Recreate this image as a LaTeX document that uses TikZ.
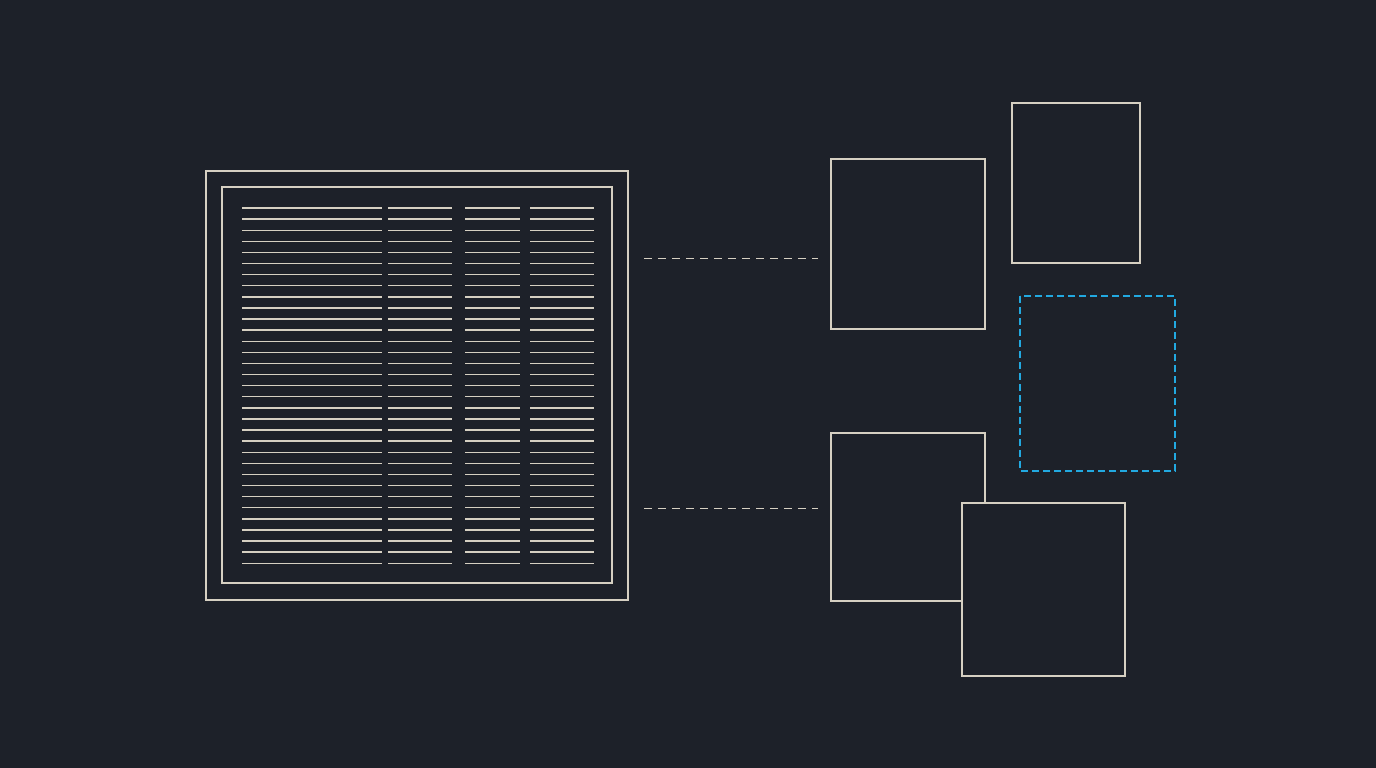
\documentclass[tikz,border=0pt]{standalone}
\definecolor{bg}{HTML}{1D2129}
\definecolor{ln}{HTML}{D6D0C2}
\definecolor{bl}{HTML}{22A9E0}
\begin{document}
\begin{tikzpicture}[x=1pt,y=-1pt,
  box/.style={draw=ln,line width=1.6pt,fill=bg},
  rowline/.style={draw=ln,line width=1.4pt},
  link/.style={draw=ln,line width=1pt,dash pattern=on 8pt off 6pt}]
\fill[bg] (0,0) rectangle (1376,768);
\useasboundingbox (0,0) rectangle (1376,768);
\draw[box] (206,171) rectangle (628,600);
\draw[box] (222,187) rectangle (612,583);
\foreach \i in {0,...,32}{
  \pgfmathsetmacro{\yy}{208+\i*11.1}
  \draw[rowline] (242,\yy) -- (382,\yy);
  \draw[rowline] (388,\yy) -- (452,\yy);
  \draw[rowline] (465,\yy) -- (520,\yy);
  \draw[rowline] (530,\yy) -- (594,\yy);
}
\coordinate (s1) at (644,258);
\coordinate (e1) at (818,258);
\coordinate (s2) at (644,508);
\coordinate (e2) at (818,508);
\draw[link] (s1) -- (e1);
\draw[link] (s2) -- (e2);
\draw[box] (831,159) rectangle (985,329);
\draw[box] (1012,103) rectangle (1140,263);
\draw[draw=bl,line width=1.6pt,dash pattern=on 7pt off 4pt] (1020,296) rectangle (1175,471);
\draw[box] (831,433) rectangle (985,601);
\draw[box] (962,503) rectangle (1125,676);
\end{tikzpicture}
\end{document}
